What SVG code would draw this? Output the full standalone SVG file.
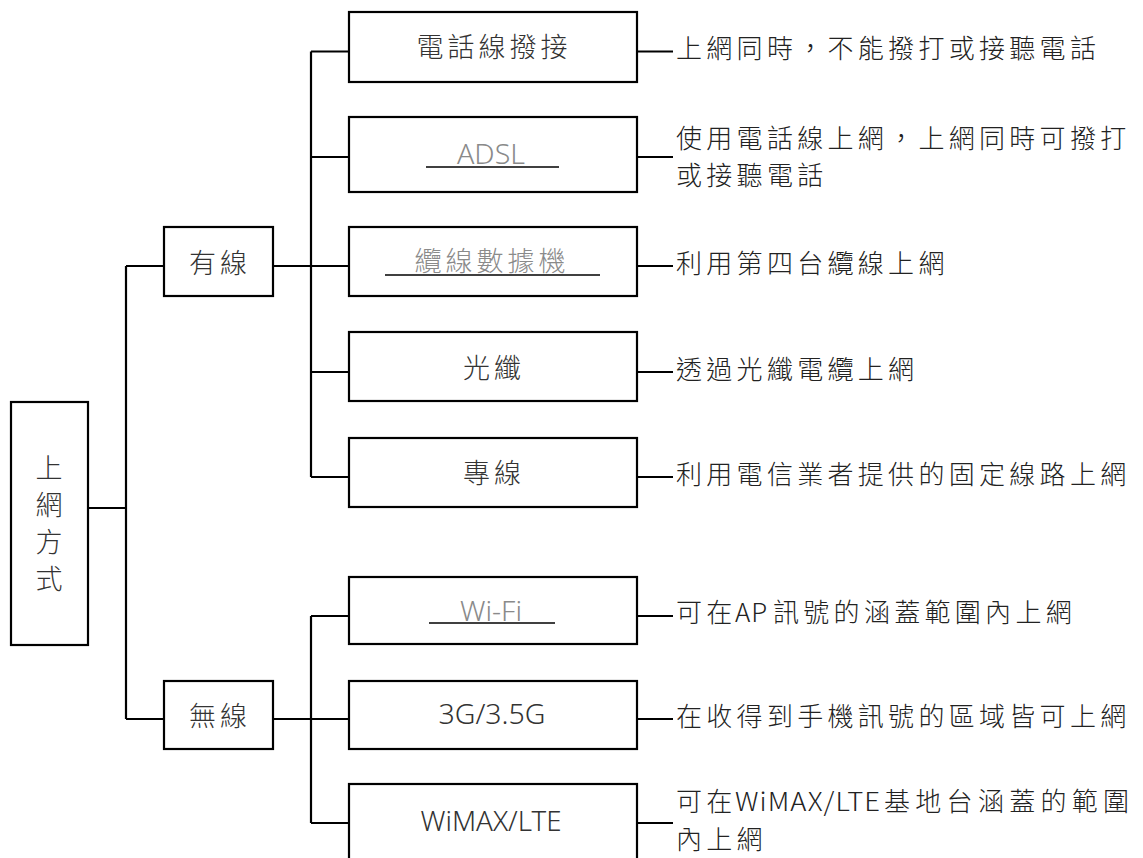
<svg xmlns="http://www.w3.org/2000/svg" width="1143" height="858" viewBox="0 0 1143 858">
<style>
.box{fill:#fff;stroke:#000;stroke-width:2.2}
.ln{fill:none;stroke:#000;stroke-width:2.2}
.ul{stroke:#000;stroke-width:1.6}
text{font-family:"Noto Sans CJK TC","Noto Sans",sans-serif;font-weight:300}
.lbl{font-size:27px;letter-spacing:4px;fill:#333;text-anchor:middle}
.gry{fill:#8a8a8a}
.lat{font-family:"Noto Sans","Noto Sans CJK TC",sans-serif;letter-spacing:0;text-anchor:middle}
.desc{font-size:26px;letter-spacing:4.3px;fill:#222}
</style>
<rect width="1143" height="858" fill="#fff"/>
<g id="connectors">
<path class="ln" d="M88 508H126M126 266V719M126 266H164M126 719H164"/>
<path class="ln" d="M273 266H311M311 51.5V477M311 51.5H349M311 157H349M311 266H349M311 372H349M311 477H349"/>
<path class="ln" d="M273 719H311M311 616V823M311 616H349M311 719H349M311 823H349"/>
<path class="ln" d="M637 51.5H673M637 157H673M637 266H673M637 372H673M637 477H673M637 616H673M637 719H673M637 823H673"/>
</g>
<g id="root"><rect class="box" x="11" y="402" width="77" height="243"/>
<text class="lbl" x="49" y="478" style="letter-spacing:0">上</text>
<text class="lbl" x="49" y="515" style="letter-spacing:0">網</text>
<text class="lbl" x="49" y="552" style="letter-spacing:0">方</text>
<text class="lbl" x="49" y="589" style="letter-spacing:0">式</text></g>
<g id="wired"><rect class="box" x="164" y="227" width="109" height="69"/><text class="lbl" x="220" y="273">有線</text></g>
<g id="wireless"><rect class="box" x="164" y="681" width="109" height="68"/><text class="lbl" x="220" y="726">無線</text></g>
<g id="dialup"><rect class="box" x="349" y="12" width="288" height="70"/><text class="lbl" x="494" y="57">電話線撥接</text></g>
<g id="adsl"><rect class="box" x="349" y="117" width="288" height="75"/><text class="lbl lat gry" x="491" y="164" font-size="28" textLength="68" lengthAdjust="spacingAndGlyphs">ADSL</text><line class="ul" x1="426" y1="167" x2="559" y2="167"/></g>
<g id="cable"><rect class="box" x="349" y="227" width="288" height="69"/><text class="lbl gry" x="492" y="271">纜線數據機</text><line class="ul" x1="385" y1="275" x2="600" y2="275"/></g>
<g id="fiber"><rect class="box" x="349" y="332" width="288" height="69"/><text class="lbl" x="494" y="378">光纖</text></g>
<g id="leased"><rect class="box" x="349" y="438" width="288" height="69"/><text class="lbl" x="494" y="483">專線</text></g>
<g id="wifi"><rect class="box" x="349" y="577" width="288" height="67"/><text class="lbl lat gry" x="491" y="621" font-size="26" textLength="62" lengthAdjust="spacingAndGlyphs">Wi-Fi</text><line class="ul" x1="429" y1="623" x2="555" y2="623"/></g>
<g id="g3"><rect class="box" x="349" y="681" width="288" height="68"/><text class="lbl lat" x="492" y="724" font-size="23" fill="#444" textLength="107" lengthAdjust="spacingAndGlyphs">3G/3.5G</text></g>
<g id="wimax"><rect class="box" x="349" y="784" width="288" height="100"/><text class="lbl lat" x="491" y="831" font-size="23" fill="#555" textLength="141" lengthAdjust="spacingAndGlyphs">WiMAX/LTE</text></g>
<g id="descs">
<text class="desc" x="676" y="58">上網同時，不能撥打或接聽電話</text>
<text class="desc" x="676" y="148">使用電話線上網，上網同時可撥打</text>
<text class="desc" x="676" y="185">或接聽電話</text>
<text class="desc" x="676" y="273">利用第四台纜線上網</text>
<text class="desc" x="676" y="379">透過光纖電纜上網</text>
<text class="desc" x="676" y="484">利用電信業者提供的固定線路上網</text>
<text class="desc" x="676" y="622">可在<tspan x="735" style="letter-spacing:1px">AP</tspan><tspan x="773">訊號的涵蓋範圍內上網</tspan></text>
<text class="desc" x="676" y="726">在收得到手機訊號的區域皆可上網</text>
<text class="desc" x="676" y="811">可在<tspan x="735" textLength="146" lengthAdjust="spacingAndGlyphs" style="letter-spacing:1px">WiMAX/LTE</tspan><tspan x="884" style="letter-spacing:5.3px">基地台涵蓋的範圍</tspan></text>
<text class="desc" x="676" y="849">內上網</text>
</g>
</svg>
